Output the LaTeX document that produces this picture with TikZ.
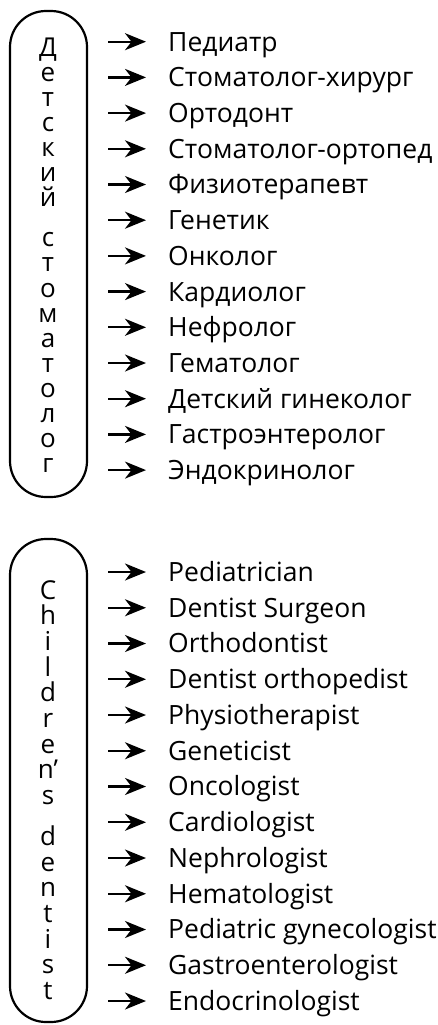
\documentclass[tikz,border=0pt]{standalone}
\usepackage{fontspec}
\setmainfont{Open Sans}
\usetikzlibrary{arrows.meta}
\begin{document}
\begin{tikzpicture}[x=1pt,y=-1pt,
  box/.style={draw, line width=2.2pt, rounded corners=36pt, minimum width=77pt, inner sep=0pt},
  stack/.style={align=center, inner sep=0pt, anchor=north},
  item/.style={anchor=west, inner sep=0pt, text height=18.9pt, text depth=0pt, font=\fontsize{26.5}{30}\selectfont},
  arr/.style={-{Stealth[length=21pt,width=17pt,inset=6.5pt]}, line width=2.3pt, shorten <=20pt, shorten >=22pt}]
\useasboundingbox[fill=white] (0,0) rectangle (437,1025);
% boxes
\node[box, minimum height=486pt] (boxA) at (48.5,254) {};
\node[box, minimum height=483pt] (boxB) at (48.5,780.5) {};
% vertical titles
\node[stack, font=\fontsize{26}{25.1}\selectfont] (titleA) at (48,37.4)
  {Д\\е\\т\\с\\к\\и\\й\\[15pt]с\\т\\о\\м\\а\\т\\о\\л\\о\\г};
\node[stack, font=\fontsize{26}{25.7}\selectfont] (titleB) at (48,580)
  {C\\h\\i\\l\\d\\r\\e\\n’\\s\\[15pt]d\\e\\n\\t\\i\\s\\t};
% Russian list
\foreach [count=\i from 0] \t in {Педиатр,Стоматолог-хирург,Ортодонт,Стоматолог-ортопед,Физиотерапевт,Генетик,Онколог,Кардиолог,Нефролог,Гематолог,Детский гинеколог,Гастроэнтеролог,Эндокринолог}{
  \node[item] (a\i) at (168,{41.7+35.7*\i}) {\t};
  \draw[arr] (boxA.east |- a\i) -- (a\i);
}
% English list
\foreach [count=\i from 0] \t in {Pediatrician,Dentist Surgeon,Orthodontist,Dentist orthopedist,Physiotherapist,Geneticist,Oncologist,Cardiologist,Nephrologist,Hematologist,Pediatric gynecologist,Gastroenterologist,Endocrinologist}{
  \node[item] (b\i) at (168,{572+35.75*\i}) {\t};
  \draw[arr] (boxB.east |- b\i) -- (b\i);
}
\end{tikzpicture}
\end{document}
